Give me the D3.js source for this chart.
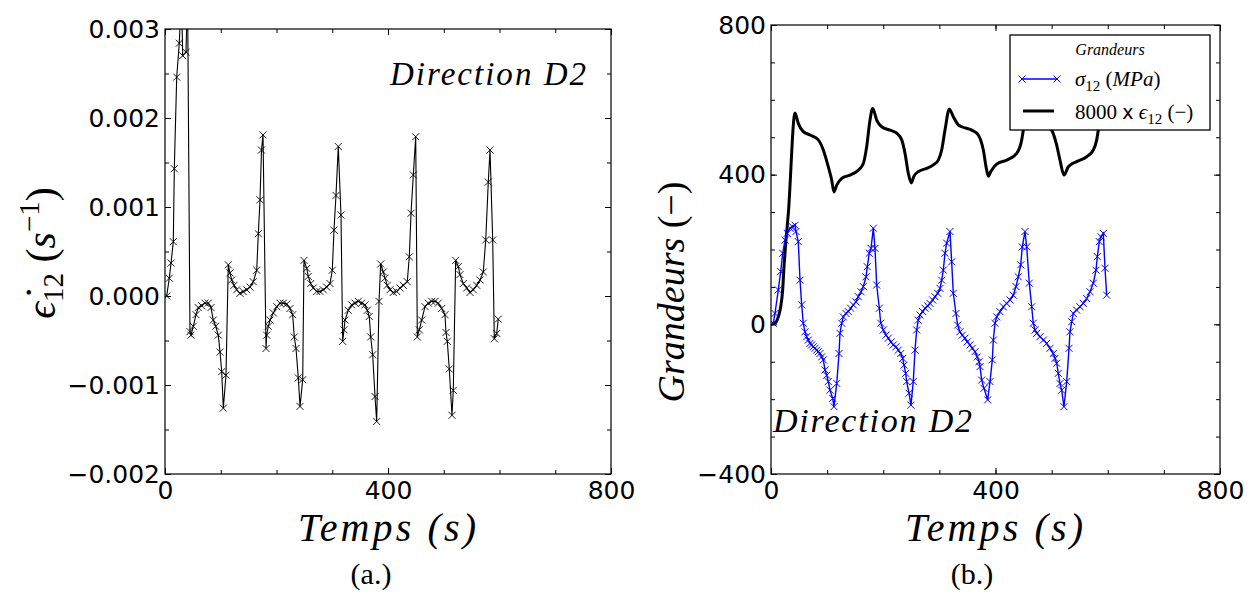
<!DOCTYPE html>
<html><head><meta charset="utf-8">
<script src="https://cdn.jsdelivr.net/npm/d3@7"></script>
<style>body{margin:0;background:#fff}svg{display:block}</style>
</head><body>
<svg id="c" width="1250" height="594"></svg>
<script>
// ---------- Data (a.) : strain rate vs time ----------
const rateTime = [3.0,7.7,10.8,14.9,16.7,21.0,25.6,29.6,31.7,37.7,
40.4,44.8,46.6,50.8,55.6,59.7,65.8,71.7,77.7,82.5,
86.6,90.9,95.6,98.7,101.7,104.6,109.4,113.5,116.6,119.6,
123.8,128.6,134.5,140.4,146.5,152.5,158.4,164.5,167.4,170.4,
173.1,175.8,181.2,182.4,185.3,188.3,194.3,200.4,206.3,212.2,
218.3,224.2,229.0,231.9,235.0,239.1,242.2,247.0,249.3,254.2,
257.0,261.3,266.0,272.1,278.0,283.9,290.0,296.0,300.1,303.1,
306.7,310.8,315.7,318.7,321.1,322.9,328.8,334.9,340.8,346.7,
352.8,358.7,362.9,366.4,369.0,372.5,376.7,379.7,383.9,386.9,
391.6,394.6,398.7,403.6,409.5,415.6,421.5,427.4,434.6,438.2,
441.3,445.4,449.7,452.6,456.1,460.4,466.4,472.3,478.4,484.3,
490.2,496.3,502.2,504.0,506.4,509.9,514.8,517.1,521.4,526.1,
529.1,535.1,541.2,547.1,553.0,559.1,565.0,570.9,575.3,579.9,
583.0,587.8,590.7,595.0,597.8];
const strainRate = [0.00000,0.00020,0.00037,0.00061,0.00143,0.00246,0.00284,0.00340,0.00270,0.00274,
0.00345,-0.00040,-0.00044,-0.00034,-0.00021,-0.00013,-0.00011,-0.00008,-0.00008,-0.00013,
-0.00027,-0.00034,-0.00044,-0.00063,-0.00085,-0.00126,-0.00089,0.00035,0.00026,0.00018,
0.00012,0.00007,0.00003,0.00005,0.00007,0.00010,0.00016,0.00029,0.00070,0.00108,
0.00164,0.00181,-0.00059,-0.00044,-0.00034,-0.00027,-0.00019,-0.00012,-0.00008,-0.00008,
-0.00009,-0.00014,-0.00021,-0.00046,-0.00059,-0.00092,-0.00124,-0.00094,0.00040,0.00031,
0.00022,0.00014,0.00009,0.00005,0.00005,0.00007,0.00010,0.00014,0.00029,0.00074,
0.00113,0.00168,0.00091,-0.00051,-0.00038,-0.00027,-0.00016,-0.00010,-0.00008,-0.00006,
-0.00008,-0.00010,-0.00016,-0.00023,-0.00046,-0.00066,-0.00113,-0.00141,-0.00006,0.00036,
0.00027,0.00020,0.00012,0.00007,0.00004,0.00005,0.00009,0.00012,0.00016,0.00044,
0.00093,0.00136,0.00179,-0.00046,-0.00038,-0.00027,-0.00012,-0.00008,-0.00006,-0.00006,
-0.00008,-0.00014,-0.00021,-0.00041,-0.00051,-0.00082,-0.00134,-0.00106,0.00040,0.00033,
0.00024,0.00014,0.00009,0.00004,0.00007,0.00012,0.00018,0.00027,0.00063,0.00128,
0.00164,0.00063,-0.00048,-0.00042,-0.00026];

// ---------- Data (b.) : sigma12 and 8000 x eps12 ----------
const stressTime = [4.1,7.1,13.0,17.3,20.8,24.9,29.0,33.9,38.0,42.8,
44.5,48.6,51.7,54.7,57.5,60.6,63.6,66.5,69.5,72.5,
75.4,78.4,81.4,84.3,87.3,90.3,93.2,96.2,99.2,102.1,
105.1,109.9,112.2,117.1,121.2,122.9,126.0,128.8,133.6,137.7,
142.0,146.6,151.4,155.5,160.4,164.5,169.3,171.6,175.1,178.2,
182.3,185.3,188.3,193.0,195.5,200.1,204.9,209.0,213.8,217.9,
222.7,226.8,231.1,234.7,237.0,240.0,241.8,245.9,249.4,253.5,
256.6,259.6,262.4,265.5,270.3,274.4,279.2,283.3,288.1,292.2,
297.0,301.1,304.1,307.0,310.0,313.0,318.9,321.9,324.8,329.6,
332.6,336.7,340.8,345.6,349.7,354.5,358.6,363.5,367.6,370.6,
372.4,375.4,379.5,386.1,390.2,394.3,396.1,399.1,402.1,408.0,
413.9,419.9,425.8,431.7,436.5,440.6,444.9,447.7,452.5,455.6,
460.2,464.5,467.3,470.4,473.4,479.3,485.2,491.2,497.1,503.0,
506.0,509.0,511.9,514.9,517.9,522.0,526.9,531.0,532.7,535.8,
538.6,544.6,550.5,556.4,562.5,568.4,574.3,579.1,581.4,585.0,
588.0,592.1,595.1,598.1];
const sigma12 = [3,29,92,141,190,225,243,257,261,265,
248,221,118,52,3,-20,-33,-42,-51,-55,
-60,-64,-69,-73,-78,-87,-95,-122,-136,-153,
-176,-198,-220,-158,-78,-24,3,20,29,34,
43,52,60,74,87,101,127,154,190,203,
257,203,105,43,3,-15,-29,-37,-47,-55,
-60,-69,-78,-91,-109,-131,-153,-184,-216,-153,
-69,-15,11,25,34,43,49,56,65,74,
83,96,118,145,190,217,248,167,83,29,
-2,-20,-29,-37,-47,-55,-64,-73,-87,-100,
-113,-149,-171,-202,-153,-95,-42,3,20,34,
47,56,65,78,101,127,159,207,248,207,
110,47,3,-15,-24,-33,-42,-51,-64,-78,
-91,-104,-131,-158,-176,-220,-153,-64,-20,7,
29,38,47,56,69,87,110,145,181,221,
234,243,150,78];
const strainTime = [1.2,7.1,13.0,17.3,20.8,23.2,26.7,30.8,42.8,48.6,
57.5,69.5,84.3,93.2,102.1,108.1,112.2,117.1,126.0,140.8,
155.5,164.5,170.5,176.4,181.2,188.3,197.2,212.0,224.0,232.9,
238.8,244.6,250.0,254.3,262.4,277.4,289.2,298.1,304.1,310.0,
317.7,324.8,333.7,339.8,357.6,369.3,378.3,384.3,387.4,391.4,
402.1,420.0,437.8,446.7,449.5,456.1,463.2,479.3,493.5,500.1,
509.0,514.9,522.0,529.7,544.7,562.5,574.3,580.3,583.2,591.5,
600.4];
const strainScaled = [1,3,20,47,92,154,225,295,565,537,
515,506,493,466,421,386,354,372,390,399,
412,430,475,546,577,546,528,519,511,493,
457,404,378,395,408,417,426,439,466,519,
575,555,533,528,519,506,466,412,396,408,
428,439,457,493,519,578,551,535,527,519,
479,439,399,421,435,448,466,493,519,573,
551];

// ---------- Tick values ----------
const timeMajor = [0,400,800];
const timeMinor = [0,100,200,300,400,500,600,700,800];
const rateMajor = [-0.002,-0.001,0,0.001,0.002,0.003];
const rateMinor = [-0.002,-0.0015,-0.001,-0.0005,0,0.0005,0.001,0.0015,0.002,0.0025,0.003];
const gMajor = [-400,0,400,800];
const gMinor = [-400,-300,-200,-100,0,100,200,300,400,500,600,700,800];

const svg = d3.select('#c');
const SERIF = "'Liberation Serif', 'DejaVu Serif', serif";
const SANS = "'DejaVu Sans', sans-serif";
const cross = "M-3.5,-3.5L3.5,3.5M-3.5,3.5L3.5,-3.5";

function frame(g, x, y, xMaj, xMin, yMaj, yMin, yFmt, id) {
  const [x0, x1] = x.range(), [yb, yt] = y.range();
  const style = a => { a.selectAll('.domain').remove(); a.selectAll('line').attr('stroke','#000').attr('stroke-width',1); a.selectAll('text').attr('fill','#000').style('font-family',SANS).style('font-size','25px'); };
  g.append('g').attr('transform',`translate(0,${yb})`).call(d3.axisBottom(x).tickValues(xMin).tickSize(-4).tickFormat('')).call(style);
  g.append('g').attr('transform',`translate(0,${yt})`).call(d3.axisTop(x).tickValues(xMin).tickSize(-4).tickFormat('')).call(style);
  g.append('g').attr('transform',`translate(${x0},0)`).call(d3.axisLeft(y).tickValues(yMin).tickSize(-4).tickFormat('')).call(style);
  g.append('g').attr('transform',`translate(${x1},0)`).call(d3.axisRight(y).tickValues(yMin).tickSize(-4).tickFormat('')).call(style);
  g.append('g').attr('transform',`translate(0,${yb})`).call(d3.axisBottom(x).tickValues(xMaj).tickSize(-6).tickPadding(7).tickFormat(d3.format('d'))).call(style);
  g.append('g').attr('transform',`translate(0,${yt})`).call(d3.axisTop(x).tickValues(xMaj).tickSize(-6).tickFormat('')).call(style);
  g.append('g').attr('transform',`translate(${x0},0)`).call(d3.axisLeft(y).tickValues(yMaj).tickSize(-6).tickPadding(5).tickFormat(yFmt)).call(style);
  g.append('g').attr('transform',`translate(${x1},0)`).call(d3.axisRight(y).tickValues(yMaj).tickSize(-6).tickFormat('')).call(style);
  g.append('rect').attr('x',x0).attr('y',yt).attr('width',x1-x0).attr('height',yb-yt)
    .attr('fill','none').attr('stroke','#000').attr('stroke-width',1.2);
  svg.append('clipPath').attr('id',id).append('rect').attr('x',x0).attr('y',yt).attr('width',x1-x0).attr('height',yb-yt);
}

// ================= Panel (a.) =================
const xa = d3.scaleLinear().domain([0,800]).range([165,611]);
const ya = d3.scaleLinear().domain([-0.002,0.003]).range([474,29]);
const ga = svg.append('g');
const fmtRate = v => d3.format('.3f')(v).replace('-','\u2212');
const dataA = rateTime.map((t,i)=>[t,strainRate[i]]);
const plotA = ga.append('g').attr('clip-path','url(#clipA)');
plotA.append('path').datum(dataA).attr('fill','none').attr('stroke','#000').attr('stroke-width',1.1)
  .attr('d', d3.line().x(d=>xa(d[0])).y(d=>ya(d[1])));
plotA.selectAll('.mk').data(dataA).join('path').attr('class','mk')
  .attr('transform',d=>`translate(${xa(d[0])},${ya(d[1])})`).attr('d',cross)
  .attr('stroke','#000').attr('stroke-width',0.9).attr('fill','none');
frame(ga, xa, ya, timeMajor, timeMinor, rateMajor, rateMinor, fmtRate, 'clipA');

ga.append('text').attr('x',390).attr('y',85).attr('textLength',196).attr('lengthAdjust','spacing')
  .style('font-family',SERIF).style('font-style','italic').style('font-size','33px').text('Direction D2');
ga.append('text').attr('x',298).attr('y',541).attr('textLength',178).attr('lengthAdjust','spacing')
  .style('font-family',SERIF).style('font-style','italic').style('font-size','40px').text('Temps (s)');
ga.append('text').attr('x',371).attr('y',584).attr('text-anchor','middle')
  .style('font-family',SERIF).style('font-size','30px').text('(a.)');
const yla = ga.append('text').attr('transform','translate(55,253) rotate(-90)').attr('text-anchor','middle')
  .style('font-family',SERIF).style('font-size','42px');
yla.append('tspan').style('font-style','italic').text('\u03F5\u0307');
yla.append('tspan').attr('dy',8).style('font-size','29px').text('12');
yla.append('tspan').attr('dy',-8).text(' (');
yla.append('tspan').style('font-style','italic').text('s');
yla.append('tspan').attr('dy',-16).style('font-size','29px').text('\u22121');
yla.append('tspan').attr('dy',16).text(')');

// ================= Panel (b.) =================
const xb = d3.scaleLinear().domain([0,800]).range([771,1220]);
const yb = d3.scaleLinear().domain([-400,800]).range([474,25]);
const gb = svg.append('g');
const fmtG = v => String(v).replace('-','\u2212');
const dataS = stressTime.map((t,i)=>[t,sigma12[i]]);
const dataE = strainTime.map((t,i)=>[t,strainScaled[i]]);
const plotB = gb.append('g').attr('clip-path','url(#clipB)');
plotB.append('path').datum(dataE).attr('fill','none').attr('stroke','#000').attr('stroke-width',3)
  .attr('stroke-linejoin','round').attr('d', d3.line().curve(d3.curveMonotoneX).x(d=>xb(d[0])).y(d=>yb(d[1])));
plotB.append('path').datum(dataS).attr('fill','none').attr('stroke','#0000ff').attr('stroke-width',1.4)
  .attr('d', d3.line().x(d=>xb(d[0])).y(d=>yb(d[1])));
plotB.selectAll('.mk').data(dataS).join('path').attr('class','mk')
  .attr('transform',d=>`translate(${xb(d[0])},${yb(d[1])})`).attr('d',cross)
  .attr('stroke','#0000ff').attr('stroke-width',1).attr('fill','none');
frame(gb, xb, yb, timeMajor, timeMinor, gMajor, gMinor, fmtG, 'clipB');

gb.append('text').attr('x',773).attr('y',432).attr('textLength',199).attr('lengthAdjust','spacing')
  .style('font-family',SERIF).style('font-style','italic').style('font-size','34px').text('Direction D2');
gb.append('text').attr('x',905).attr('y',541).attr('textLength',178).attr('lengthAdjust','spacing')
  .style('font-family',SERIF).style('font-style','italic').style('font-size','40px').text('Temps (s)');
gb.append('text').attr('x',972).attr('y',584).attr('text-anchor','middle')
  .style('font-family',SERIF).style('font-size','30px').text('(b.)');
const ylb = gb.append('text').attr('transform','translate(684,292) rotate(-90)').attr('text-anchor','middle')
  .style('font-family',SERIF).style('font-size','38px');
ylb.append('tspan').style('font-style','italic').text('Grandeurs');
ylb.append('tspan').text(' (\u2212)');

// legend
const lg = gb.append('g');
lg.append('rect').attr('x',1010).attr('y',35).attr('width',200).attr('height',95)
  .attr('fill','#fff').attr('stroke','#000').attr('stroke-width',1.3);
lg.append('text').attr('x',1110).attr('y',55).attr('text-anchor','middle')
  .style('font-family',SERIF).style('font-style','italic').style('font-size','16px').text('Grandeurs');
lg.append('line').attr('x1',1022).attr('x2',1057).attr('y1',79).attr('y2',79).attr('stroke','#0000ff').attr('stroke-width',1.4);
[1022,1057].forEach(px=>lg.append('path').attr('transform',`translate(${px},79)`).attr('d',cross).attr('stroke','#0000ff').attr('stroke-width',1).attr('fill','none'));
const t1 = lg.append('text').attr('x',1075).attr('y',86).style('font-family',SERIF).style('font-size','21px');
t1.append('tspan').style('font-style','italic').text('\u03C3');
t1.append('tspan').attr('dy',5).style('font-size','15px').text('12');
t1.append('tspan').attr('dy',-5).text(' (');
t1.append('tspan').style('font-style','italic').text('MPa');
t1.append('tspan').text(')');
lg.append('line').attr('x1',1023).attr('x2',1054).attr('y1',111).attr('y2',111).attr('stroke','#000').attr('stroke-width',3);
const t2 = lg.append('text').attr('x',1075).attr('y',119).style('font-family',SERIF).style('font-size','21px');
t2.append('tspan').text('8000 ');
t2.append('tspan').style('font-family',SANS).style('font-size','19px').text('x');
t2.append('tspan').text(' ');
t2.append('tspan').style('font-style','italic').text('\u03F5');
t2.append('tspan').attr('dy',5).style('font-size','15px').text('12');
t2.append('tspan').attr('dy',-5).text(' (\u2212)');
</script>
</body></html>
